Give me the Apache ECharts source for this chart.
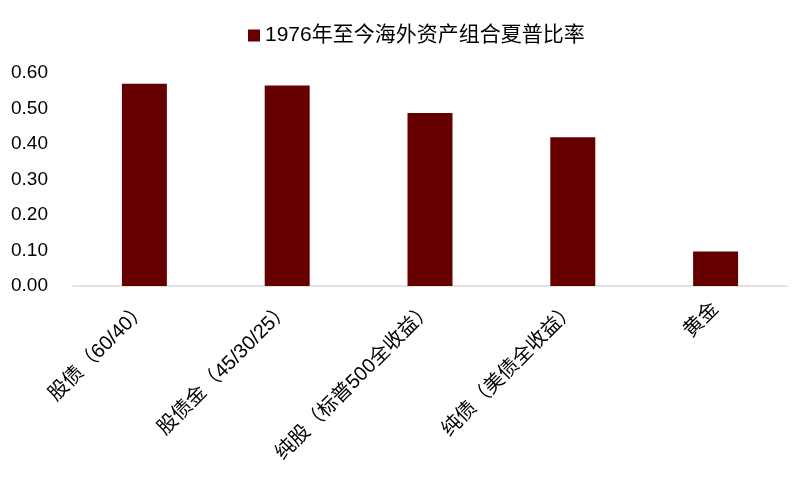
<!DOCTYPE html>
<html><head><meta charset="utf-8">
<script src="https://cdn.jsdelivr.net/npm/echarts@6/dist/echarts.min.js"></script>
<style>html,body{margin:0;padding:0;background:#fff}#c{width:799px;height:484px}</style>
</head><body><div id="c"></div>
<script>
const categories = ['股债（60/40）', '股债金（45/30/25）', '纯股（标普500全收益）', '纯债（美债全收益）', '黄金'];
const sharpe = [0.57, 0.565, 0.487, 0.419, 0.097];
const seriesName = '1976年至今海外资产组合夏普比率';
const yTicks = [0, 0.1, 0.2, 0.3, 0.4, 0.5, 0.6];

const font = '"Liberation Sans", Arial, "Noto Sans CJK SC", sans-serif';
const chart = echarts.init(document.getElementById('c'), null, {renderer: 'canvas'});
chart.setOption({
  animation: false,
  textStyle: {fontFamily: font},
  legend: {
    top: 20, left: 243,
    itemWidth: 12, itemHeight: 12, itemGap: 6,
    icon: 'rect',
    textStyle: {fontSize: 21, color: '#000', fontFamily: font},
    data: [seriesName]
  },
  grid: {left: 73, right: 12, top: 73, bottom: 198, containLabel: false},
  xAxis: {
    type: 'category', data: categories,
    axisLine: {lineStyle: {color: '#d9d9d9', width: 1.5}},
    axisTick: {show: false},
    axisLabel: {rotate: 45, fontSize: 20, color: '#000', margin: 20, interval: 0, fontFamily: font}
  },
  yAxis: {
    type: 'value', min: yTicks[0], max: yTicks[yTicks.length - 1], interval: 0.1,
    splitLine: {show: false},
    axisLine: {show: false}, axisTick: {show: false},
    axisLabel: {fontSize: 19, color: '#000', margin: 25, formatter: v => v.toFixed(2), fontFamily: font}
  },
  series: [{
    name: seriesName, type: 'bar', data: sharpe,
    barWidth: '31.5%',
    itemStyle: {color: '#660000'}
  }]
});
</script></body></html>
